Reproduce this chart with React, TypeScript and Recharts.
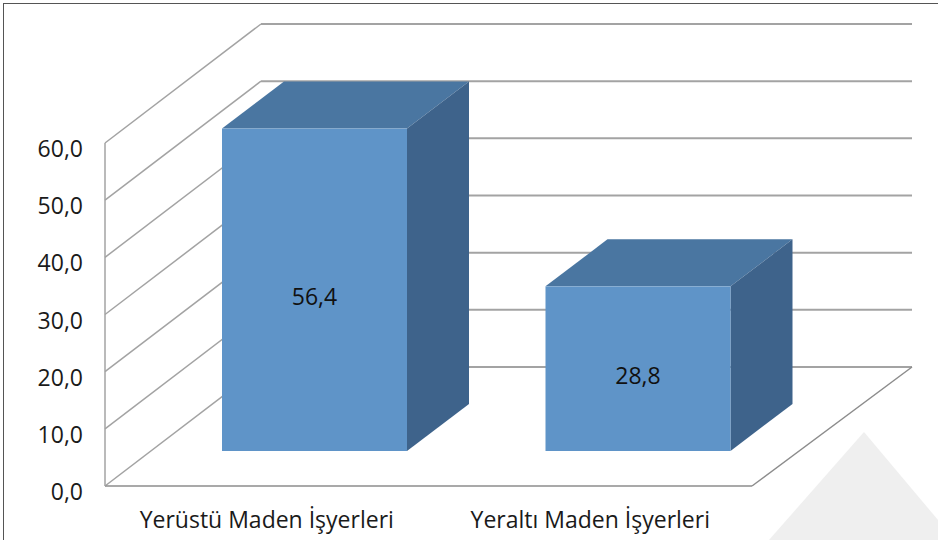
import { BarChart, Bar, XAxis, YAxis, CartesianGrid } from "recharts";

const categories = ["Yerüstü Maden İşyerleri", "Yeraltı Maden İşyerleri"];
const values = [56.4, 28.8];
const yTicks = [0, 10, 20, 30, 40, 50, 60];

const rows = categories.map((name, i) => ({ name, value: values[i] }));

const FONT = "'Open Sans', 'DejaVu Sans', sans-serif";
const FONT_SIZE = 23;
// 3D geometry (pixels)
const WALL_DX = 156;
const WALL_DY = -119;
const SHIFT_X = 48;
const SHIFT_Y = -35;
const DEPTH_X = 62;
const DEPTH_Y = -47;

const fmt = (v: number) => v.toFixed(1).replace(".", ",");

const WallLine = (p: any) => {
  const { x1, x2, y1, index } = p;
  const bottom = p.y + p.height;
  const isFloor = Number.isFinite(bottom) ? Math.abs(y1 - bottom) < 1 : index === 0;
  return (
    <g key={`wall-${index}`}>
      <line x1={x1} y1={y1} x2={x1 + WALL_DX} y2={y1 + WALL_DY} stroke="#a3a3a3" strokeWidth={1.5} />
      <line x1={x1 + WALL_DX} y1={y1 + WALL_DY} x2={x2 + 160} y2={y1 + WALL_DY} stroke="#a3a3a3" strokeWidth={2} />
      {isFloor && (
        <line x1={x2} y1={y1} x2={x2 + 160} y2={y1 + WALL_DY} stroke="#8c8c8c" strokeWidth={1.5} />
      )}
    </g>
  );
};

const Box3D = (p: any) => {
  const { x, y, width, height, payload } = p;
  const fx = x + SHIFT_X;
  const fy = y + SHIFT_Y;
  const w = width;
  const h = height;
  return (
    <g>
      <polygon
        points={`${fx},${fy} ${fx + w},${fy} ${fx + w + DEPTH_X},${fy + DEPTH_Y} ${fx + DEPTH_X},${fy + DEPTH_Y}`}
        fill="#4a76a1"
      />
      <polygon
        points={`${fx + w},${fy} ${fx + w + DEPTH_X},${fy + DEPTH_Y} ${fx + w + DEPTH_X},${fy + h + DEPTH_Y} ${fx + w},${fy + h}`}
        fill="#3e638b"
      />
      <rect x={fx} y={fy} width={w} height={h} fill="#5f94c8" />
      <text
        x={fx + w / 2}
        y={fy + h / 2 + 6}
        textAnchor="middle"
        dominantBaseline="central"
        fontFamily={FONT}
        fontSize={FONT_SIZE}
        fill="#111"
      >
        {fmt(payload.value)}
      </text>
    </g>
  );
};

const YTick = (p: any) => (
  <text x={p.x} y={p.y + 5} textAnchor="end" dominantBaseline="central" fontFamily={FONT} fontSize={FONT_SIZE} fill="#1a1a1a">
    {fmt(p.payload.value)}
  </text>
);

const XTick = (p: any) => (
  <text x={p.x} y={p.y + 42} textAnchor="middle" fontFamily={FONT} fontSize={FONT_SIZE} fill="#1a1a1a">
    {p.payload.value}
  </text>
);

export default function App() {
  return (
    <div style={{ position: "relative", width: 938, height: 540, background: "#fff", overflow: "hidden" }}>
      <style>{`body{margin:0}`}</style>
      <svg width={938} height={540} style={{ position: "absolute", left: 0, top: 0 }}>
        <polygon points="864,432 769,540 938,540 938,520" fill="#efefef" />
      </svg>
      <div
        style={{
          position: "absolute",
          left: 3,
          top: 3,
          right: 0,
          bottom: 0,
          borderTop: "1.5px solid #555",
          borderLeft: "1.5px solid #555",
        }}
      />
      <div style={{ position: "absolute", left: 0, top: 0 }}>
        <BarChart width={938} height={540} data={rows} margin={{ top: 143, right: 186, bottom: 0, left: 0 }}>
          <CartesianGrid vertical={false} horizontal={WallLine} />
          <XAxis
            dataKey="name"
            height={54}
            tickSize={0}
            tickMargin={0}
            tick={XTick}
            axisLine={{ stroke: "#8c8c8c", strokeWidth: 1.5 }}
            tickLine={false}
          />
          <YAxis
            width={105}
            domain={[0, 60]}
            ticks={yTicks}
            tickSize={0}
            tickMargin={22}
            tick={YTick}
            axisLine={{ stroke: "#a3a3a3", strokeWidth: 1.5 }}
            tickLine={false}
          />
          <Bar dataKey="value" barSize={185} shape={Box3D} isAnimationActive={false} />
        </BarChart>
      </div>
    </div>
  );
}
